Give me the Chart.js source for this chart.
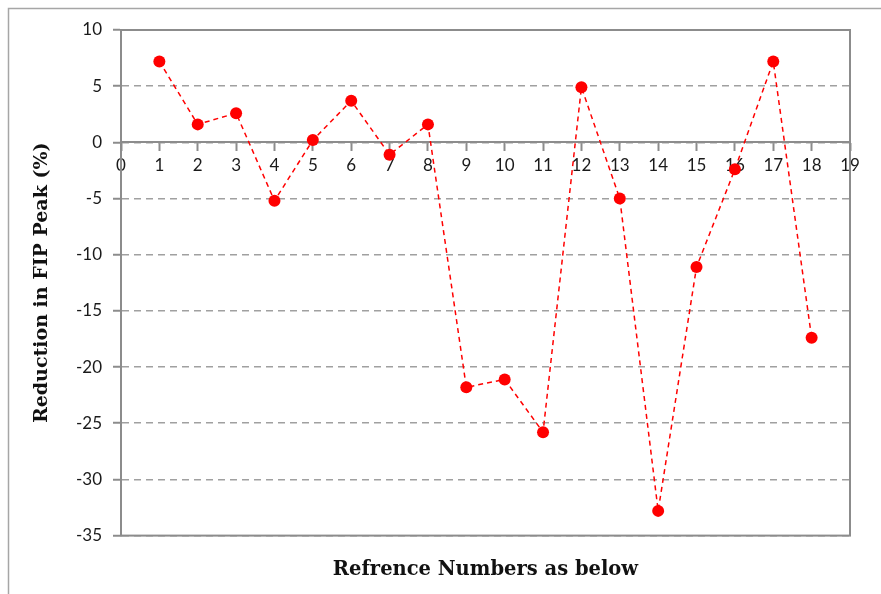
<!DOCTYPE html>
<html>
<head>
<meta charset="utf-8">
<script src="https://cdn.jsdelivr.net/npm/chart.js@4/dist/chart.umd.min.js"></script>
<style>
  html, body { margin: 0; padding: 0; background: #fff; }
  #wrap { width: 881px; height: 594px; position: relative; }
</style>
</head>
<body>
<div id="wrap"><canvas id="fipChart"></canvas></div>
<script>
// values
var refNumbers = [1, 2, 3, 4, 5, 6, 7, 8, 9, 10, 11, 12, 13, 14, 15, 16, 17, 18];
var reduction = [7.2, 1.6, 2.6, -5.2, 0.2, 3.7, -1.1, 1.6, -21.8, -21.1, -25.8, 4.9, -5.0, -32.8, -11.1, -2.4, 7.2, -17.4];
var yTicks = { min: -35, max: 10, step: 5 };
var xTicks = { min: 0, max: 19, step: 1 };

var points = refNumbers.map(function (n, i) {
    return { x: n, y: reduction[i] };
});

// outer chart border + plot area frame
var framePlugin = {
    id: 'frame',
    beforeDraw: function (chart) {
        var ctx = chart.ctx;
        ctx.save();
        ctx.fillStyle = '#fff';
        ctx.fillRect(0, 0, chart.width, chart.height);
        ctx.strokeStyle = '#a6a6a6';
        ctx.lineWidth = 1.5;
        ctx.strokeRect(8.5, 8.5, 900, 700);
        ctx.restore();
    },
    beforeDatasetsDraw: function (chart) {
        var a = chart.chartArea;
        var ctx = chart.ctx;
        ctx.save();
        ctx.strokeStyle = '#8c8c8c';
        ctx.lineWidth = 2;
        ctx.strokeRect(a.left, a.top, a.right - a.left, a.bottom - a.top);
        ctx.restore();
    }
};

var ctx = document.getElementById('fipChart').getContext('2d');
new Chart(ctx, {
    type: 'line',
    data: {
        datasets: [{
            data: points,
            borderColor: '#ff0000',
            borderWidth: 1.5,
            borderDash: [5, 4],
            backgroundColor: '#ff0000',
            pointBackgroundColor: '#ff0000',
            pointBorderColor: '#ff0000',
            pointRadius: 6,
            pointBorderWidth: 0,
            tension: 0,
            fill: false
        }]
    },
    options: {
        responsive: true,
        maintainAspectRatio: false,
        animation: false,
        layout: {
            padding: { left: 31, right: 31, top: 30, bottom: 0 }
        },
        plugins: {
            legend: { display: false },
            tooltip: { enabled: false },
            title: {
                display: true,
                position: 'bottom',
                fullSize: false,
                text: 'Refrence Numbers as below',
                color: '#111',
                font: { family: 'DejaVu Serif', size: 19.5, weight: 'bold' },
                padding: { top: 23, bottom: 12 }
            }
        },
        scales: {
            x: {
                type: 'linear',
                position: { y: 0 },
                min: xTicks.min,
                max: xTicks.max,
                ticks: {
                    stepSize: xTicks.step,
                    color: '#1a1a1a',
                    padding: 5,
                    maxRotation: 0,
                    autoSkip: false,
                    font: { family: 'Lato', size: 17 }
                },
                grid: {
                    drawOnChartArea: false,
                    drawTicks: true,
                    tickLength: 8,
                    tickColor: '#8c8c8c',
                    tickWidth: 2
                },
                border: { color: '#8c8c8c', width: 2 }
            },
            y: {
                min: yTicks.min,
                max: yTicks.max,
                afterFit: function (scale) { scale.width = 90; },
                ticks: {
                    stepSize: yTicks.step,
                    color: '#1a1a1a',
                    padding: 11,
                    font: { family: 'Lato', size: 17 }
                },
                grid: {
                    color: '#a0a0a0',
                    lineWidth: 1.5,
                    drawTicks: true,
                    tickLength: 8,
                    tickColor: '#8c8c8c',
                    tickWidth: 2,
                    tickBorderDash: []
                },
                border: { color: '#8c8c8c', width: 2, dash: [7, 5] },
                title: {
                    display: true,
                    text: 'Reduction in FIP Peak (%)',
                    color: '#111',
                    font: { family: 'DejaVu Serif', size: 19, weight: 'bold' },
                    padding: { top: 0, bottom: 0 }
                }
            }
        }
    },
    plugins: [framePlugin]
});
</script>
</body>
</html>
